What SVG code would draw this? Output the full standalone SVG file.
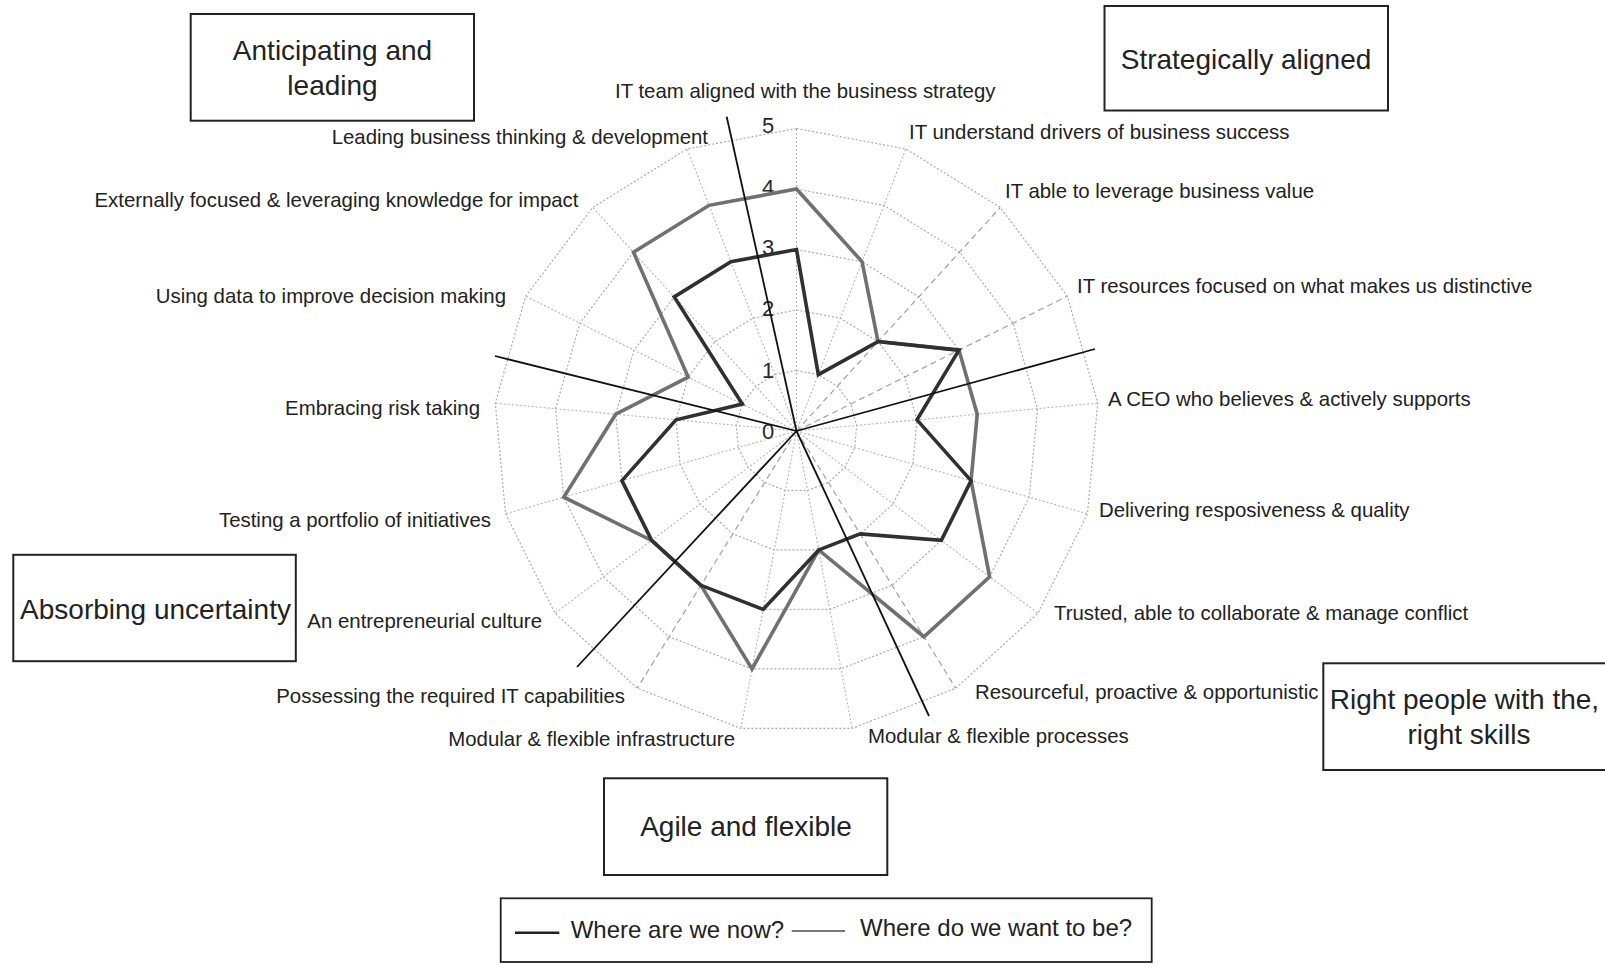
<svg xmlns="http://www.w3.org/2000/svg" width="1605" height="966" viewBox="0 0 1605 966">
<style>
text{font-family:"Liberation Sans",Arial,Helvetica,sans-serif;fill:#222}
.lbl{font-size:20.4px}
.lblL{font-size:20.4px;text-anchor:end}
.cat{font-size:28px;text-anchor:middle}
.leg{font-size:24px}
.num{font-size:22px;text-anchor:middle;fill:#2a2a2a}
.box{fill:none;stroke:#222;stroke-width:2}
.ring{fill:none;stroke:#ababab;stroke-width:1.2;stroke-dasharray:2 2}
.spoke{stroke:#b5b5b5;stroke-width:1.1;stroke-dasharray:2 2}
.spokeD{stroke:#a0a0a0;stroke-width:1.2;stroke-dasharray:6 4}
.sep{stroke:#111;stroke-width:1.8;fill:none}
.now{fill:none;stroke:#303030;stroke-width:3.6;stroke-linejoin:miter}
.want{fill:none;stroke:#707070;stroke-width:3.6;stroke-linejoin:miter}
</style>
<rect width="1605" height="966" fill="#fff"/>

<g id="grid">
<polygon class="ring" points="796.5,370.5 818.35,374.59 837.26,386.29 850.66,404.03 856.74,425.42 854.69,447.56 844.78,467.46 828.35,482.44 807.62,490.47 785.38,490.47 764.65,482.44 748.22,467.46 738.31,447.56 736.26,425.42 742.34,404.03 755.74,386.29 774.65,374.59"/>
<polygon class="ring" points="796.5,310 840.21,318.17 878.02,341.58 904.81,377.07 916.98,419.84 912.88,464.11 893.06,503.92 860.2,533.88 818.73,549.94 774.27,549.94 732.8,533.88 699.94,503.92 680.12,464.11 676.02,419.84 688.19,377.07 714.98,341.58 752.79,318.17"/>
<polygon class="ring" points="796.5,249.5 862.07,261.76 918.78,296.87 958.97,350.1 977.23,414.25 971.07,480.67 941.34,540.38 892.05,585.31 829.85,609.41 763.15,609.41 700.95,585.31 651.66,540.38 621.93,480.67 615.77,414.25 634.03,350.1 674.22,296.87 730.93,261.76"/>
<polygon class="ring" points="796.5,189 883.92,205.34 959.54,252.16 1013.13,323.13 1037.47,408.67 1029.26,497.23 989.62,576.84 923.9,636.75 840.97,668.88 752.03,668.88 669.1,636.75 603.38,576.84 563.74,497.23 555.53,408.67 579.87,323.13 633.46,252.16 709.08,205.34"/>
<polygon class="ring" points="796.5,128.5 905.78,148.93 1000.29,207.45 1067.29,296.16 1097.71,403.09 1087.45,513.78 1037.9,613.3 955.75,688.19 852.08,728.35 740.92,728.35 637.25,688.19 555.1,613.3 505.55,513.78 495.29,403.09 525.71,296.16 592.71,207.45 687.22,148.93"/>
<line class="spoke" x1="796.5" y1="431" x2="796.5" y2="128.5"/>
<line class="spoke" x1="796.5" y1="431" x2="905.78" y2="148.93"/>
<line class="spokeD" x1="796.5" y1="431" x2="1000.29" y2="207.45"/>
<line class="spokeD" x1="796.5" y1="431" x2="1067.29" y2="296.16"/>
<line class="spoke" x1="796.5" y1="431" x2="1097.71" y2="403.09"/>
<line class="spoke" x1="796.5" y1="431" x2="1087.45" y2="513.78"/>
<line class="spoke" x1="796.5" y1="431" x2="1037.9" y2="613.3"/>
<line class="spokeD" x1="796.5" y1="431" x2="955.75" y2="688.19"/>
<line class="spoke" x1="796.5" y1="431" x2="852.08" y2="728.35"/>
<line class="spoke" x1="796.5" y1="431" x2="740.92" y2="728.35"/>
<line class="spokeD" x1="796.5" y1="431" x2="637.25" y2="688.19"/>
<line class="spoke" x1="796.5" y1="431" x2="555.1" y2="613.3"/>
<line class="spoke" x1="796.5" y1="431" x2="505.55" y2="513.78"/>
<line class="spoke" x1="796.5" y1="431" x2="495.29" y2="403.09"/>
<line class="spoke" x1="796.5" y1="431" x2="525.71" y2="296.16"/>
<line class="spoke" x1="796.5" y1="431" x2="592.71" y2="207.45"/>
<line class="spoke" x1="796.5" y1="431" x2="687.22" y2="148.93"/>
</g>

<g id="scale">
<text class="num" x="768" y="133">5</text>
<text class="num" x="768" y="194.5">4</text>
<text class="num" x="768" y="255">3</text>
<text class="num" x="768" y="315.5">2</text>
<text class="num" x="768" y="377.5">1</text>
<text class="num" x="768" y="439">0</text>
</g>

<g id="series">
<polygon id="want" class="want" points="796.5,189 862.07,261.76 878.02,341.58 958.97,350.1 977.23,414.25 971.07,480.67 989.62,576.84 923.9,636.75 818.73,549.94 752.03,668.88 700.95,585.31 651.66,540.38 563.74,497.23 615.77,414.25 688.19,377.07 633.46,252.16 709.08,205.34"/>
<polygon id="now" class="now" points="796.5,249.5 818.35,374.59 878.02,341.58 958.97,350.1 916.98,419.84 971.07,480.67 941.34,540.38 860.2,533.88 818.73,549.94 763.15,609.41 700.95,585.31 651.66,540.38 621.93,480.67 676.02,419.84 742.34,404.03 674.22,296.87 730.93,261.76"/>
</g>

<g id="connectors">
<line class="sep" x1="796.5" y1="431" x2="726.7" y2="116.7"/>
<line class="sep" x1="796.5" y1="431" x2="1095" y2="349"/>
<line class="sep" x1="796.5" y1="431" x2="929" y2="716"/>
<line class="sep" x1="796.5" y1="431" x2="577" y2="667"/>
<line class="sep" x1="796.5" y1="431" x2="495" y2="356"/>
</g>

<g id="axis-labels">
<text class="lbl" x="615" y="98">IT team aligned with the business strategy</text>
<text class="lbl" x="909" y="139">IT understand drivers of business success</text>
<text class="lbl" x="1005" y="198">IT able to leverage business value</text>
<text class="lbl" x="1077" y="293">IT resources focused on what makes us distinctive</text>
<text class="lbl" x="1108" y="406">A CEO who believes &amp; actively supports</text>
<text class="lbl" x="1099" y="517">Delivering resposiveness &amp; quality</text>
<text class="lbl" x="1054" y="620">Trusted, able to collaborate &amp; manage conflict</text>
<text class="lbl" x="975" y="698.5">Resourceful, proactive &amp; opportunistic</text>
<text class="lbl" x="868" y="743">Modular &amp; flexible processes</text>
<text class="lblL" x="735" y="746">Modular &amp; flexible infrastructure</text>
<text class="lblL" x="625" y="703">Possessing the required IT capabilities</text>
<text class="lblL" x="542" y="628">An entrepreneurial culture</text>
<text class="lblL" x="491" y="527">Testing a portfolio of initiatives</text>
<text class="lblL" x="480" y="415">Embracing risk taking</text>
<text class="lblL" x="506" y="303">Using data to improve decision making</text>
<text class="lblL" x="578.5" y="207">Externally focused &amp; leveraging knowledge for impact</text>
<text class="lblL" x="708" y="143.5">Leading business thinking &amp; development</text>
</g>

<g id="box-anticipating">
<rect class="box" x="190.7" y="14" width="283.3" height="106.7"/>
<text class="cat" x="332.5" y="60">Anticipating and</text>
<text class="cat" x="332.5" y="95">leading</text>
</g>
<g id="box-strategic">
<rect class="box" x="1104.5" y="6" width="283.5" height="104.5"/>
<text class="cat" x="1246" y="69">Strategically aligned</text>
</g>
<g id="box-absorbing">
<rect class="box" x="13.3" y="554.8" width="282.5" height="106.4"/>
<text class="cat" x="155.5" y="619">Absorbing uncertainty</text>
</g>
<g id="box-people">
<rect class="box" x="1323.3" y="663.3" width="300" height="106.7"/>
<text class="cat" x="1464.5" y="708.5">Right people with the,</text>
<text class="cat" x="1469" y="744">right skills</text>
</g>
<g id="box-agile">
<rect class="box" x="604" y="778.3" width="283.3" height="96.7"/>
<text class="cat" x="746" y="836">Agile and flexible</text>
</g>

<g id="legend">
<rect class="box" x="500.7" y="898.3" width="651" height="63.7" style="stroke-width:1.8"/>
<line x1="515" y1="932.7" x2="559.3" y2="932.7" stroke="#222" stroke-width="2.6"/>
<text class="leg" x="570.7" y="938">Where are we now?</text>
<line x1="791.7" y1="931" x2="845" y2="931" stroke="#777" stroke-width="2.2"/>
<text class="leg" x="860" y="936">Where do we want to be?</text>
</g>
</svg>
